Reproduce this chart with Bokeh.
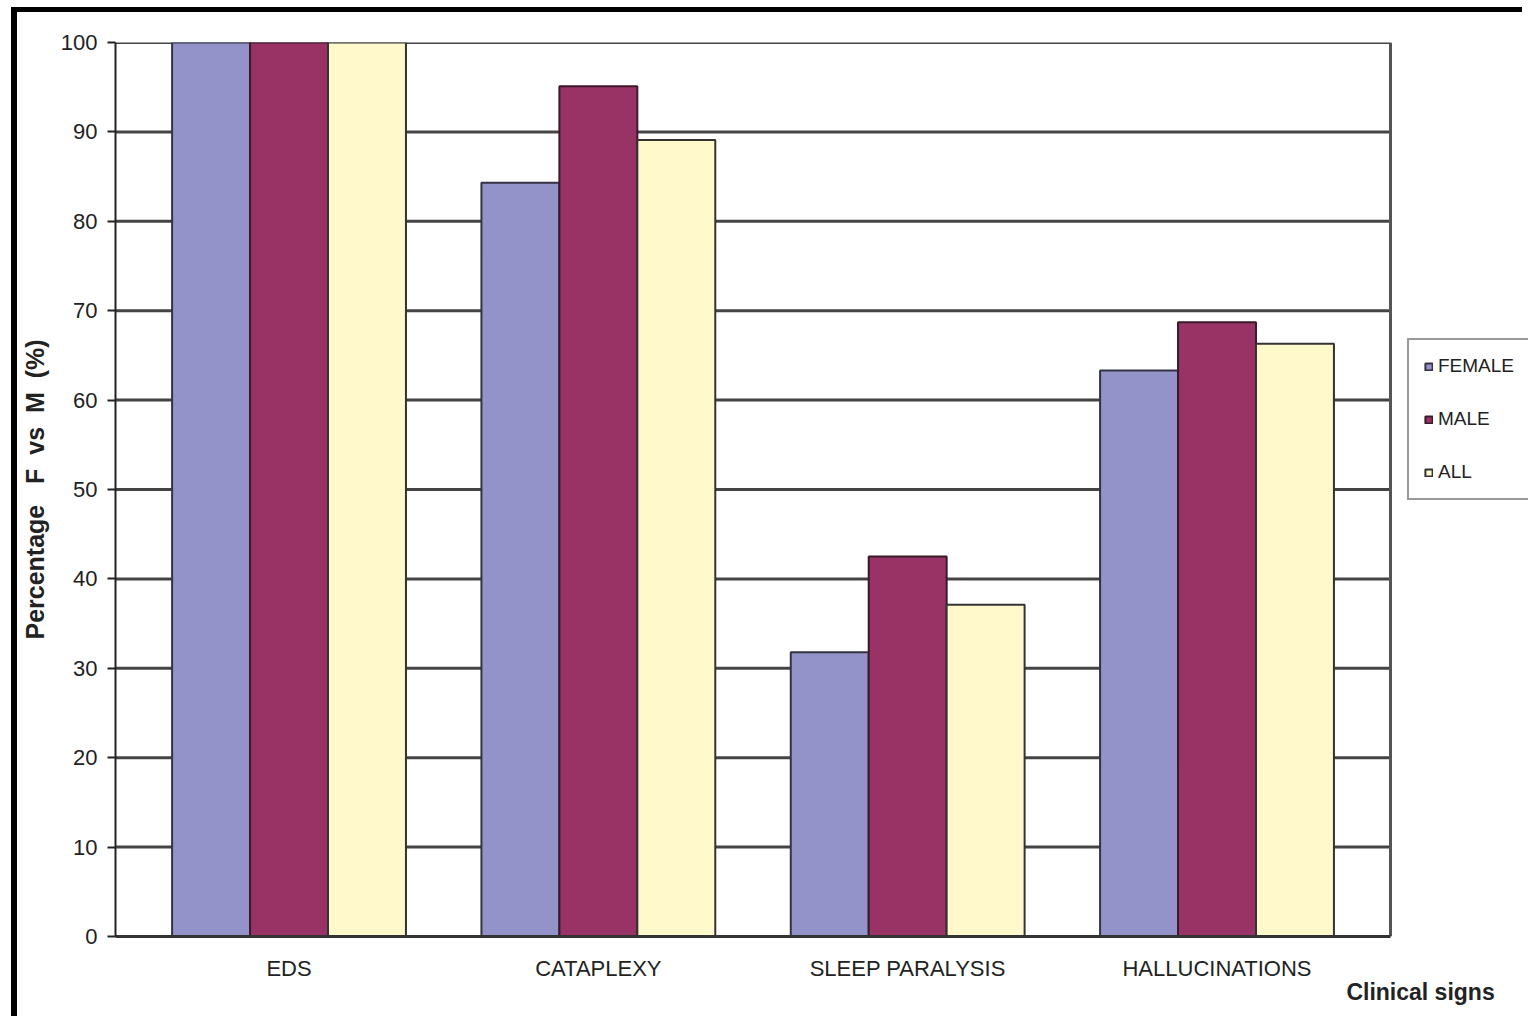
from bokeh.plotting import figure
from bokeh.models import ColumnDataSource, FixedTicker, Legend, LegendItem, LinearAxis
from bokeh.transform import dodge
from bokeh.embed import file_html
from bokeh.resources import INLINE

categories = ["EDS", "CATAPLEXY", "SLEEP PARALYSIS", "HALLUCINATIONS"]
female = [100, 84.3, 31.8, 63.3]
male = [100, 95.1, 42.5, 68.7]
all_ = [100, 89.1, 37.1, 66.3]
y_ticks = [0, 10, 20, 30, 40, 50, 60, 70, 80, 90, 100]

FONT = "Liberation Sans Narrow, Arial Narrow, Liberation Sans"
X_START = -0.561      # left end of the category axis
X_END = 3.561         # right end of the category axis (plot-area border)
X_VIEW = 4.007        # visible extent (room for legend on the right)
X_TITLE = 3.658       # where the x-axis title sits

src = ColumnDataSource(dict(x=list(range(len(categories))), female=female, male=male, all=all_))
grid_src = ColumnDataSource(dict(y=y_ticks, x0=[X_START] * len(y_ticks), x1=[X_END] * len(y_ticks)))

p = figure(width=1511, height=1009, output_backend="svg", toolbar_location=None,
           x_range=(X_START, X_VIEW), y_range=(0, 100),
           min_border_left=98, min_border_top=30, min_border_right=0,
           min_border_bottom=1009 - 924)
p.styles = {"border-left": "6px solid black", "border-top": "5px solid black",
            "margin-left": "11px", "margin-top": "7px"}

# horizontal gridlines, limited to the plot area
p.segment(x0="x0", x1="x1", y0="y", y1="y", source=grid_src,
          line_color="#444444", line_width=3)
# right border of the plot area
p.vspan(x=[X_END], line_color="#555555", line_width=3)

w = 0.252
r_f = p.vbar(x=dodge("x", -w, range=p.x_range), top="female", width=w, source=src,
             fill_color="#9393C9", line_color="#333344", line_width=2)
r_m = p.vbar(x=dodge("x", 0, range=p.x_range), top="male", width=w, source=src,
             fill_color="#993366", line_color="#3a1a2a", line_width=2)
r_a = p.vbar(x=dodge("x", w, range=p.x_range), top="all", width=w, source=src,
             fill_color="#FFF9CC", line_color="#333333", line_width=2)

p.xaxis.bounds = (X_START, X_END)
p.xaxis.ticker = FixedTicker(ticks=list(range(len(categories))))
p.xaxis.major_label_overrides = {i: c for i, c in enumerate(categories)}
p.xaxis.major_tick_line_color = None
p.xaxis.minor_tick_line_color = None
p.xaxis.axis_line_color = "#333333"
p.xaxis.axis_line_width = 3
p.xaxis.major_label_text_font = FONT
p.xaxis.major_label_text_font_size = "22px"
p.xaxis.major_label_text_color = "#222222"
p.xaxis.major_label_standoff = 13

title_axis = LinearAxis(ticker=FixedTicker(ticks=[X_TITLE]),
                        major_label_overrides={X_TITLE: "Clinical signs"},
                        axis_line_color=None, major_tick_line_color=None,
                        minor_tick_line_color=None, major_label_standoff=-11,
                        major_label_text_font=FONT, major_label_text_font_style="bold",
                        major_label_text_font_size="23px", major_label_text_color="#222222")
p.add_layout(title_axis, "below")

p.yaxis.ticker = FixedTicker(ticks=y_ticks)
p.yaxis.axis_line_color = "#222222"
p.yaxis.axis_line_width = 2
p.yaxis.major_tick_out = 8
p.yaxis.major_tick_in = 0
p.yaxis.major_tick_line_width = 2
p.yaxis.major_tick_line_color = "#222222"
p.yaxis.minor_tick_line_color = None
p.yaxis.major_label_text_font = FONT
p.yaxis.major_label_text_font_size = "22px"
p.yaxis.major_label_text_color = "#222222"
p.yaxis.major_label_standoff = 10
p.yaxis.axis_label = "Percentage\u00a0\u00a0 F\u00a0 vs\u00a0 M\u00a0 (%)"
p.yaxis.axis_label_text_font = "Liberation Sans"
p.yaxis.axis_label_text_font_style = "bold"
p.yaxis.axis_label_text_font_size = "25px"
p.yaxis.axis_label_text_color = "#222222"
p.yaxis.axis_label_standoff = 9

p.xgrid.grid_line_color = None
p.ygrid.grid_line_color = None

p.outline_line_color = None
p.background_fill_color = "white"
p.border_fill_color = "white"

legend = Legend(items=[LegendItem(label="FEMALE", renderers=[r_f]),
                       LegendItem(label="MALE", renderers=[r_m]),
                       LegendItem(label="ALL", renderers=[r_a])],
                location=(1292, 436), orientation="vertical",
                glyph_width=9, glyph_height=9, label_text_font=FONT,
                label_text_font_size="19px", label_text_color="#222222",
                label_height=20, spacing=31, padding=15, margin=0, label_standoff=5,
                border_line_color="#333333", border_line_width=2,
                background_fill_color="white", background_fill_alpha=1)
p.add_layout(legend, "center")

open("out.html", "w").write(file_html(p, INLINE))
